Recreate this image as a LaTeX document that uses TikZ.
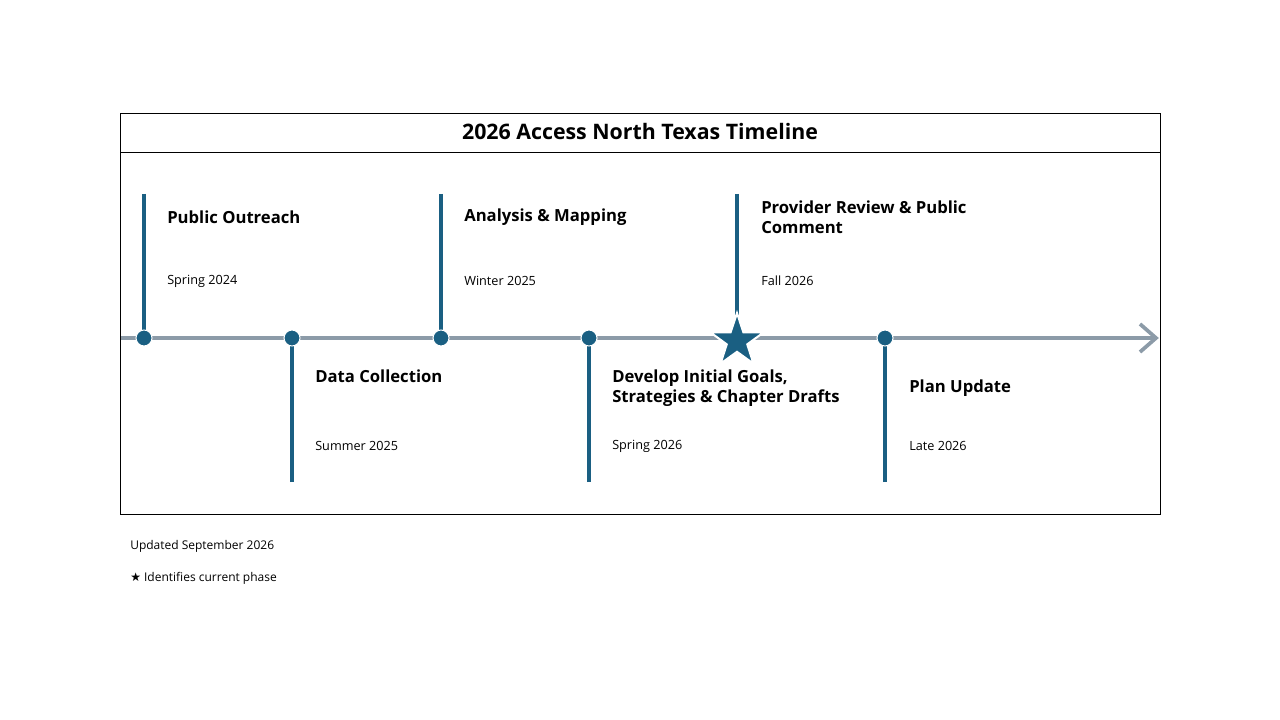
\documentclass[tikz,border=0pt]{standalone}
\usepackage{fontspec}
\setmainfont{Open Sans}
\usetikzlibrary{shapes.geometric}
\definecolor{tblue}{HTML}{1A5F82}
\definecolor{tgrey}{HTML}{8C9BA8}
\begin{document}
\begin{tikzpicture}[x=0.75pt,y=-0.75pt,
  stem/.style={tblue,line width=2.4pt},
  dot/.style={circle,fill=tblue,draw=white,line width=0.8pt,minimum size=12pt,inner sep=0pt},
  head/.style={anchor=west,font=\fontsize{12.5}{15}\selectfont\bfseries,align=left,inner sep=0pt},
  date/.style={anchor=west,font=\fontsize{9.5}{11}\selectfont,inner sep=0pt},
  note/.style={anchor=west,font=\fontsize{9}{10}\selectfont,inner sep=0pt}]
\useasboundingbox (0,0) rectangle (1280,720);
\draw[line width=0.6pt] (120,113) rectangle (1160,514);
\draw[line width=0.6pt] (120,152) -- (1160,152);
\node[font=\fontsize{16}{19}\selectfont\bfseries] (title) at (640,132) {2026 Access North Texas Timeline};
\coordinate (ls) at (121,338);
\coordinate (le) at (1156,338);
\draw[tgrey,line width=2.6pt] (ls) -- (le);
\draw[tgrey,line width=2.8pt] (1140,324) -- (le) -- (1140,352);
% stems
\foreach \x/\n in {144/a,441/c}{\coordinate (t\n) at (\x,194); \draw[stem] (t\n) -- (\x,338);}
\coordinate (te) at (737,194); \draw[stem] (te) -- (737,318);
\foreach \x/\n in {292/b,589/d,885/f}{\coordinate (t\n) at (\x,482); \draw[stem] (t\n) -- (\x,338);}
\node[dot] (da) at (144,338) {};
\node[dot] (db) at (292,338) {};
\node[dot] (dc) at (441,338) {};
\node[dot] (dd) at (589,338) {};
\node[dot] (df) at (885,338) {};
\node[star,star points=5,star point ratio=2.6,fill=tblue,draw=white,line width=1.5pt,minimum size=42pt,inner sep=0pt] (de) at (737,341) {};
\node[head] (ha) at (167,217) {Public Outreach};
\node[date] (ya) at (167,281) {Spring 2024};
\node[head] (hc) at (464,217) {Analysis \& Mapping};
\node[date] (yc) at (464,281) {Winter 2025};
\node[head] (he) at (761,217) {Provider Review \& Public\\Comment};
\node[date] (ye) at (761,281) {Fall 2026};
\node[head] (hb) at (315,376) {Data Collection};
\node[date] (yb) at (315,446) {Summer 2025};
\node[head] (hd) at (612,388) {Develop Initial Goals,\\Strategies \& Chapter Drafts};
\node[date] (yd) at (612,446) {Spring 2026};
\node[head] (hf) at (909,388) {Plan Update};
\node[date] (yf) at (909,446) {Late 2026};
\node[note] (n1) at (130,546) {Updated September 2026};
\node[note] (n2) at (130,578) {{\fontspec{DejaVu Sans}★} Identifies current phase};
\end{tikzpicture}
\end{document}
